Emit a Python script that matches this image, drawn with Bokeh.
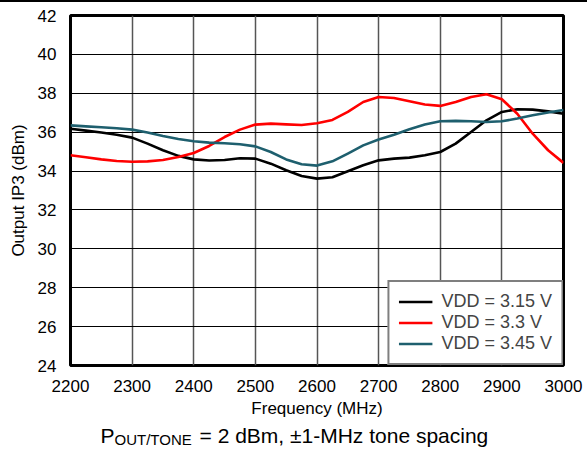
from bokeh.plotting import figure
from bokeh.models import Legend, LegendItem, FixedTicker, Div
from bokeh.layouts import column
from bokeh.core.properties import value
from bokeh.embed import file_html
from bokeh.resources import INLINE

freq = [2200, 2225, 2250, 2275, 2300, 2325, 2350, 2375, 2400,
        2425, 2450, 2475, 2500, 2525, 2550, 2575, 2600,
        2625, 2650, 2675, 2700, 2725, 2750, 2775, 2800,
        2825, 2850, 2875, 2900, 2925, 2950, 2975, 3000]
vdd_315 = [36.18, 36.08, 35.98, 35.87, 35.72, 35.41, 35.07, 34.78, 34.60,
           34.54, 34.57, 34.66, 34.64, 34.38, 34.04, 33.75, 33.61,
           33.68, 33.99, 34.30, 34.55, 34.64, 34.69, 34.81, 34.98,
           35.41, 36.01, 36.61, 37.04, 37.18, 37.16, 37.07, 36.95]
vdd_330 = [34.81, 34.71, 34.60, 34.52, 34.48, 34.50, 34.57, 34.72, 34.93,
           35.29, 35.75, 36.13, 36.39, 36.44, 36.40, 36.37, 36.46,
           36.63, 37.04, 37.55, 37.81, 37.76, 37.59, 37.42, 37.35,
           37.55, 37.81, 37.95, 37.69, 36.95, 35.92, 35.07, 34.42]
vdd_345 = [36.35, 36.30, 36.25, 36.20, 36.13, 35.98, 35.80, 35.65, 35.53,
           35.46, 35.43, 35.38, 35.27, 34.98, 34.60, 34.35, 34.28,
           34.50, 34.90, 35.32, 35.62, 35.87, 36.15, 36.39, 36.56,
           36.58, 36.56, 36.52, 36.56, 36.70, 36.87, 37.01, 37.14]

x_ticks = [2200, 2300, 2400, 2500, 2600, 2700, 2800, 2900, 3000]
y_ticks = [24, 26, 28, 30, 32, 34, 36, 38, 40, 42]
series_labels = ["VDD = 3.15 V", "VDD = 3.3 V", "VDD = 3.45 V"]
series_colors = ["#000000", "#ff0000", "#1e5f6e"]
caption_main = "P"
caption_sub = "OUT/TONE"
caption_rest = "= 2 dBm, \u00b11-MHz tone spacing"

FONT = "Liberation Sans"
W = 587
X_RANGE = (2200, 3000)
BL, BR = 70, 24

# thin rule at the very top of the page
top = Div(text="", width=W, height=2, margin=0, styles={"background-color": "black"})

p = figure(width=W, height=418, output_backend="svg", toolbar_location=None, title_location=None,
           x_range=X_RANGE, y_range=(24, 42),
           min_border_left=BL, min_border_right=BR, min_border_top=13, min_border_bottom=55)

p.outline_line_color = "black"
p.outline_line_width = 3
p.background_fill_color = "white"
p.border_fill_color = "white"

p.xaxis.ticker = FixedTicker(ticks=x_ticks)
p.yaxis.ticker = FixedTicker(ticks=y_ticks)
for ax in (p.xaxis[0], p.yaxis[0]):
    ax.axis_line_color = None
    ax.major_tick_line_color = None
    ax.minor_tick_line_color = None
    ax.major_label_text_font = FONT
    ax.major_label_text_font_size = "17px"
    ax.major_label_text_color = "black"
    ax.axis_label_text_font = FONT
    ax.axis_label_text_font_size = "17px"
    ax.axis_label_text_font_style = "normal"
    ax.axis_label_text_color = "black"
p.xaxis.axis_label = "Frequency (MHz)"
p.yaxis.axis_label = "Output IP3 (dBm)"
p.xaxis.major_label_standoff = 8
p.xaxis.axis_label_standoff = 4
p.yaxis.major_label_standoff = 8
p.yaxis.axis_label_standoff = 7

p.xgrid.grid_line_color = "#555555"
p.xgrid.grid_line_width = 1.5
p.ygrid.grid_line_color = "black"
p.ygrid.grid_line_width = 1

items = []
for ys, lab, col in zip([vdd_315, vdd_330, vdd_345], series_labels, series_colors):
    r = p.line(freq, ys, line_color=col, line_width=2.6, line_join="round")
    items.append(LegendItem(label=lab, renderers=[r]))

legend = Legend(items=items, location="bottom_right", margin=0,
                border_line_color="black", border_line_width=2.5,
                padding=9, spacing=0, glyph_width=34, glyph_height=21,
                label_height=21, label_standoff=9,
                label_text_font=FONT, label_text_font_size="18px",
                background_fill_alpha=1.0)
p.add_layout(legend)

# caption strip below the chart; x in MHz so it shares the chart's frame alignment
cap = figure(width=W, height=29, output_backend="svg", toolbar_location=None, title_location=None,
             x_range=X_RANGE, y_range=(0, 29),
             min_border_left=BL, min_border_right=BR, min_border_top=0, min_border_bottom=0)
cap.axis.visible = False
cap.grid.visible = False
cap.outline_line_color = None
cap.border_fill_color = "white"
cap.text(x=[2248.7], y=[14], text=[caption_main], text_font=value(FONT), text_font_size="21px",
         text_baseline="alphabetic", text_align="left", text_color="black")
cap.text(x=[2271.4], y=[10], text=[caption_sub], text_font=value(FONT), text_font_size="15px",
         text_baseline="alphabetic", text_align="left", text_color="black")
cap.text(x=[2409.4], y=[14], text=[caption_rest], text_font=value(FONT), text_font_size="21px",
         text_baseline="alphabetic", text_align="left", text_color="black")

layout = column(top, p, cap, spacing=0)
open("out.html", "w").write(file_html(layout, INLINE))
